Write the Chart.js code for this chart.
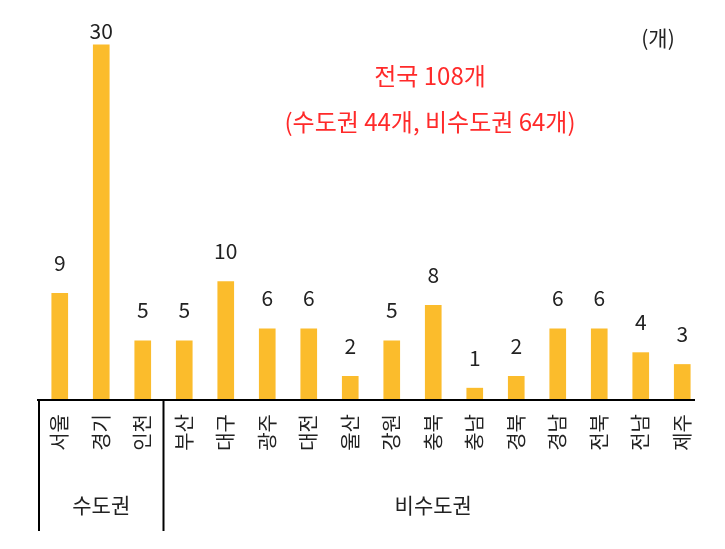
<!DOCTYPE html>
<html><head><meta charset="utf-8">
<script src="https://cdn.jsdelivr.net/npm/chart.js@4"></script>
<style>html,body{margin:0;padding:0;background:#fff}#w{width:725px;height:549px}</style>
</head><body><div id="w"><canvas id="c" width="725" height="549"></canvas></div>
<script>
const categories = ['서울','경기','인천','부산','대구','광주','대전','울산','강원','충북','충남','경북','경남','전북','전남','제주'];
const values = [9,30,5,5,10,6,6,2,5,8,1,2,6,6,4,3];
const groups = [{name:'수도권', from:0, to:2},{name:'비수도권', from:3, to:15}];
const unitLabel = '(개)';
const titleLines = ['전국 108개','(수도권 44개, 비수도권 64개)'];
const FONT = '"Noto Sans CJK KR", "Noto Sans", sans-serif';

const deco = {
  id:'deco',
  afterDatasetsDraw(chart){
    const {ctx, chartArea:a, scales:{x,y}} = chart;
    const meta = chart.getDatasetMeta(0);
    ctx.save();
    ctx.fillStyle='#222'; ctx.font='21px '+FONT; ctx.textAlign='center'; ctx.textBaseline='bottom';
    meta.data.forEach((b,i)=>ctx.fillText(String(values[i]), b.x, Math.max(b.y-20, 42)));
    ctx.strokeStyle='#000'; ctx.lineWidth=2;
    ctx.beginPath(); ctx.moveTo(a.left-2,a.bottom); ctx.lineTo(a.right-8,a.bottom); ctx.stroke();
    const half = (x.getPixelForValue(1)-x.getPixelForValue(0))/2;
    const seps=[x.getPixelForValue(0)-half, x.getPixelForValue(2)+half];
    seps.forEach(sx=>{ctx.beginPath();ctx.moveTo(sx,a.bottom);ctx.lineTo(sx,531);ctx.stroke();});
    ctx.font='21px '+FONT; ctx.textBaseline='middle';
    groups.forEach(g=>{const cx=(x.getPixelForValue(g.from)+x.getPixelForValue(g.to))/2; ctx.fillText(g.name,cx,505);});
    ctx.fillText(unitLabel,658,38);
    ctx.fillStyle='#ff2a2a'; ctx.font='24px '+FONT;
    ctx.fillText(titleLines[0],430,76);
    ctx.fillText(titleLines[1],430,122);
    ctx.restore();
  }
};

new Chart(document.getElementById('c'),{
  type:'bar',
  data:{labels:categories,datasets:[{data:values,backgroundColor:'#FBBC2C',barThickness:16}]},
  options:{
    responsive:false, animation:false,
    layout:{padding:{left:39,right:22,top:8,bottom:0}},
    plugins:{legend:{display:false},tooltip:{enabled:false}},
    scales:{
      x:{grid:{display:false,drawTicks:false},border:{display:false},
         ticks:{minRotation:90,maxRotation:90,color:'#222',font:{family:FONT,size:20},padding:14},
         afterFit(s){s.height=149;}},
      y:{display:false,min:0,max:33.1}
    }
  },
  plugins:[deco]
});
</script></body></html>
